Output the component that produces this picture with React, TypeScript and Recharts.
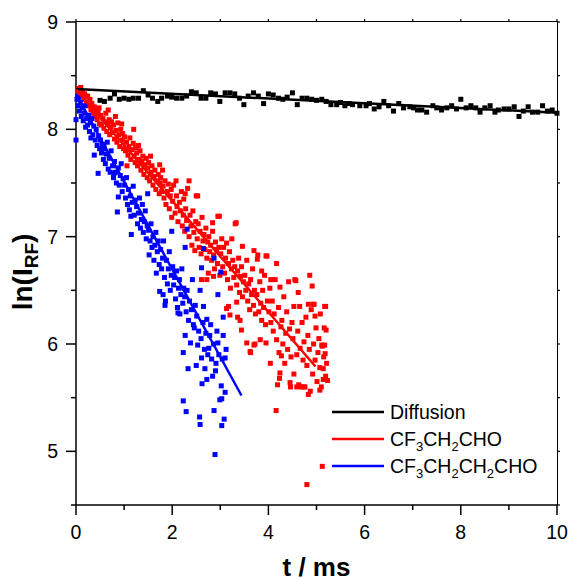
import React from "react";
import { ScatterChart, Scatter, XAxis, YAxis } from "recharts";

if (typeof document !== "undefined") {
  document.body.style.margin = "0";
}

// ---------- data (t in ms, ln(I_RF)) ----------
const diffusionPoints: [number, number][] = [
  [0.5, 8.27], [0.59, 8.26], [0.71, 8.29], [0.8, 8.33], [0.9, 8.28], [1.0, 8.29], [1.1, 8.28], [1.19, 8.29],
  [1.3, 8.29], [1.4, 8.36], [1.5, 8.32], [1.59, 8.29], [1.7, 8.26], [1.78, 8.29], [1.9, 8.31], [1.99, 8.3],
  [2.09, 8.29], [2.2, 8.29], [2.3, 8.31], [2.4, 8.35], [2.5, 8.34], [2.6, 8.29], [2.7, 8.29], [2.8, 8.34],
  [2.9, 8.33], [2.99, 8.26], [3.1, 8.34], [3.2, 8.34], [3.3, 8.33], [3.4, 8.29], [3.49, 8.23], [3.58, 8.31],
  [3.69, 8.34], [3.79, 8.31], [3.9, 8.24], [4.0, 8.33], [4.1, 8.32], [4.21, 8.29], [4.3, 8.28], [4.39, 8.3],
  [4.5, 8.34], [4.6, 8.23], [4.7, 8.29], [4.8, 8.29], [4.9, 8.28], [5.0, 8.27], [5.11, 8.28], [5.2, 8.26],
  [5.3, 8.23], [5.42, 8.23], [5.5, 8.25], [5.59, 8.22], [5.68, 8.24], [5.75, 8.23], [5.9, 8.22], [6.03, 8.22],
  [6.1, 8.24], [6.2, 8.19], [6.3, 8.21], [6.4, 8.26], [6.5, 8.22], [6.6, 8.17], [6.71, 8.24], [6.81, 8.2],
  [6.94, 8.21], [7.02, 8.2], [7.1, 8.18], [7.19, 8.18], [7.29, 8.16], [7.42, 8.22], [7.5, 8.2], [7.6, 8.18],
  [7.71, 8.2], [7.81, 8.22], [7.91, 8.19], [8.0, 8.28], [8.11, 8.2], [8.21, 8.22], [8.31, 8.2], [8.4, 8.16],
  [8.5, 8.2], [8.61, 8.22], [8.71, 8.16], [8.78, 8.18], [8.9, 8.19], [9.0, 8.19], [9.11, 8.21], [9.21, 8.12],
  [9.3, 8.17], [9.4, 8.21], [9.49, 8.16], [9.6, 8.16], [9.7, 8.22], [9.8, 8.17], [9.9, 8.18], [10.0, 8.15],
];

const cf3ch2choPoints: [number, number][] = [
  [0.03, 8.36], [0.06, 8.38], [0.08, 8.33], [0.1, 8.39], [0.12, 8.31], [0.14, 8.35], [0.16, 8.28], [0.18, 8.33],
  [0.2, 8.3], [0.22, 8.25], [0.24, 8.31], [0.27, 8.22], [0.29, 8.28], [0.31, 8.18], [0.33, 8.24], [0.36, 8.15],
  [0.38, 8.21], [0.4, 8.12], [0.42, 8.19], [0.44, 8.09], [0.46, 8.16], [0.48, 8.2], [0.49, 8.05], [0.51, 8.13],
  [0.53, 8.04], [0.56, 8.1], [0.58, 8.01], [0.6, 8.07], [0.62, 8.15], [0.64, 7.98], [0.66, 8.05], [0.67, 8.18],
  [0.69, 8.09], [0.7, 7.95], [0.72, 8.02], [0.74, 8.07], [0.76, 7.97], [0.78, 8.04], [0.8, 7.91], [0.82, 8.12],
  [0.83, 7.99], [0.85, 7.88], [0.87, 8.06], [0.89, 7.95], [0.91, 7.84], [0.93, 8.0], [0.95, 8.05], [0.96, 7.9],
  [0.97, 7.96], [0.99, 7.82], [1.01, 7.93], [1.03, 7.8], [1.05, 7.88], [1.06, 7.66], [1.08, 7.76], [1.1, 7.84],
  [1.12, 7.92], [1.14, 7.72], [1.16, 7.81], [1.19, 7.87], [1.2, 8.0], [1.21, 7.75], [1.23, 7.69], [1.24, 7.83],
  [1.26, 7.78], [1.28, 7.66], [1.3, 7.85], [1.31, 7.72], [1.33, 7.8], [1.35, 7.62], [1.37, 7.7], [1.39, 7.75],
  [1.41, 7.58], [1.43, 7.67], [1.46, 7.73], [1.48, 7.55], [1.49, 7.64], [1.51, 7.69], [1.53, 7.52], [1.55, 7.75],
  [1.56, 7.6], [1.58, 7.66], [1.6, 7.48], [1.62, 7.56], [1.64, 7.62], [1.66, 7.44], [1.69, 7.52], [1.71, 7.58],
  [1.73, 7.4], [1.74, 7.67], [1.75, 7.5], [1.76, 7.55], [1.78, 7.42], [1.8, 7.62], [1.81, 7.47], [1.83, 7.36],
  [1.85, 7.52], [1.87, 7.3], [1.9, 7.42], [1.92, 7.49], [1.94, 7.26], [1.96, 7.38], [1.98, 7.44], [1.99, 7.18],
  [2.01, 7.33], [2.03, 7.48], [2.06, 7.22], [2.08, 7.52], [2.09, 7.38], [2.1, 7.28], [2.12, 7.14], [2.15, 7.32],
  [2.17, 7.24], [2.19, 7.42], [2.21, 7.1], [2.23, 7.2], [2.24, 7.35], [2.26, 7.05], [2.27, 7.4], [2.28, 7.26],
  [2.3, 7.15], [2.32, 7.45], [2.35, 7.0], [2.35, 7.52], [2.37, 7.2], [2.39, 7.1], [2.41, 6.92], [2.43, 7.24],
  [2.45, 7.04], [2.47, 6.87], [2.49, 7.14], [2.5, 7.38], [2.52, 6.98], [2.53, 7.38], [2.54, 7.12], [2.56, 6.9],
  [2.58, 7.05], [2.6, 6.84], [2.61, 6.6], [2.62, 7.18], [2.64, 6.96], [2.66, 7.02], [2.68, 6.88], [2.7, 7.08],
  [2.72, 6.8], [2.72, 6.6], [2.74, 6.95], [2.75, 6.66], [2.76, 7.0], [2.78, 6.86], [2.8, 6.92], [2.82, 6.78],
  [2.84, 7.05], [2.84, 7.13], [2.86, 6.83], [2.86, 6.63], [2.88, 6.7], [2.9, 6.95], [2.92, 6.88], [2.94, 6.75],
  [2.95, 7.19], [2.97, 6.9], [2.98, 7.19], [2.99, 6.64], [3.01, 6.84], [3.03, 6.98], [3.05, 6.72], [3.07, 6.9],
  [3.09, 6.66], [3.11, 6.8], [3.13, 6.94], [3.13, 6.33], [3.15, 6.6], [3.17, 6.75], [3.17, 6.35], [3.19, 6.86],
  [3.2, 6.27], [3.21, 6.52], [3.23, 6.7], [3.24, 6.98], [3.26, 6.78], [3.28, 6.62], [3.3, 6.72], [3.31, 7.12],
  [3.33, 7.13], [3.34, 6.55], [3.34, 6.39], [3.36, 6.68], [3.36, 6.25], [3.38, 6.8], [3.4, 6.48], [3.41, 6.22],
  [3.42, 6.63], [3.44, 6.72], [3.44, 6.13], [3.46, 6.44], [3.46, 6.91], [3.48, 6.58], [3.51, 6.64], [3.53, 6.5],
  [3.55, 6.78], [3.55, 6.01], [3.57, 6.4], [3.59, 6.56], [3.61, 6.32], [3.62, 5.93], [3.63, 6.6], [3.63, 5.92],
  [3.65, 6.46], [3.67, 6.7], [3.69, 6.36], [3.7, 5.99], [3.7, 6.87], [3.71, 6.5], [3.72, 6.0], [3.73, 6.28],
  [3.76, 6.46], [3.77, 6.79], [3.78, 6.83], [3.8, 6.3], [3.82, 6.58], [3.83, 6.04], [3.84, 6.38], [3.86, 6.22],
  [3.86, 6.68], [3.88, 6.5], [3.9, 6.34], [3.92, 6.64], [3.94, 6.18], [3.95, 6.01], [3.95, 6.82], [3.97, 6.82],
  [3.98, 6.4], [4.01, 6.3], [4.03, 6.52], [4.04, 5.82], [4.05, 6.6], [4.05, 6.2], [4.08, 6.4], [4.1, 6.12],
  [4.12, 6.28], [4.14, 6.6], [4.16, 5.38], [4.17, 6.04], [4.17, 6.75], [4.19, 5.62], [4.21, 6.34], [4.22, 5.92],
  [4.23, 5.68], [4.24, 6.53], [4.24, 5.73], [4.26, 6.16], [4.27, 5.89], [4.28, 6.22], [4.3, 6.0], [4.32, 6.44],
  [4.34, 5.82], [4.36, 6.1], [4.38, 6.3], [4.4, 5.95], [4.42, 6.58], [4.44, 6.14], [4.45, 5.64], [4.46, 5.6],
  [4.47, 5.88], [4.49, 6.2], [4.51, 6.05], [4.53, 6.35], [4.53, 5.72], [4.55, 6.6], [4.57, 6.59], [4.59, 5.9],
  [4.59, 5.6], [4.61, 6.12], [4.62, 6.48], [4.63, 5.62], [4.65, 6.35], [4.66, 5.96], [4.68, 5.6], [4.7, 6.2],
  [4.72, 5.85], [4.73, 5.6], [4.74, 6.02], [4.76, 5.6], [4.78, 6.25], [4.8, 4.69], [4.8, 5.8], [4.82, 6.08],
  [4.83, 5.53], [4.83, 6.37], [4.85, 5.95], [4.86, 6.64], [4.87, 5.56], [4.89, 6.32], [4.91, 6.54], [4.92, 5.72],
  [4.93, 6.37], [4.94, 6.0], [4.95, 6.37], [4.97, 5.85], [4.97, 6.26], [4.99, 6.15], [5.01, 5.65], [5.03, 5.92],
  [5.05, 6.05], [5.07, 5.78], [5.07, 5.57], [5.08, 6.28], [5.1, 5.6], [5.11, 5.99], [5.12, 4.86], [5.12, 5.98],
  [5.14, 5.77], [5.14, 5.67], [5.15, 5.88], [5.16, 6.15], [5.17, 6.35], [5.17, 5.99], [5.18, 5.91], [5.19, 5.7],
  [5.19, 6.35], [5.2, 6.13], [5.21, 5.82], [5.23, 5.66],
];

const cf3ch2ch2choPoints: [number, number][] = [
  [0.0, 8.09], [0.0, 7.9], [0.02, 8.28], [0.04, 8.22], [0.05, 8.3], [0.07, 8.17], [0.09, 8.25], [0.11, 8.12],
  [0.13, 8.2], [0.15, 8.08], [0.17, 8.15], [0.19, 8.22], [0.2, 8.02], [0.22, 8.1], [0.24, 8.04], [0.26, 8.13],
  [0.28, 7.98], [0.3, 8.06], [0.31, 7.92], [0.33, 8.1], [0.35, 7.95], [0.37, 8.03], [0.38, 7.76], [0.4, 7.9],
  [0.42, 8.0], [0.44, 7.85], [0.46, 7.59], [0.47, 7.94], [0.49, 7.82], [0.51, 7.9], [0.53, 7.78], [0.55, 7.86],
  [0.57, 7.72], [0.58, 7.84], [0.59, 7.82], [0.61, 7.68], [0.63, 7.77], [0.65, 7.88], [0.67, 7.63], [0.69, 7.73],
  [0.71, 7.6], [0.73, 7.8], [0.76, 7.66], [0.78, 7.55], [0.79, 7.59], [0.8, 7.7], [0.82, 7.6], [0.84, 7.5],
  [0.86, 7.23], [0.88, 7.64], [0.88, 7.37], [0.9, 7.48], [0.92, 7.57], [0.94, 7.68], [0.96, 7.42], [0.98, 7.54],
  [1.01, 7.48], [1.03, 7.36], [1.05, 7.55], [1.07, 7.3], [1.09, 7.44], [1.11, 7.25], [1.13, 7.38], [1.14, 7.19],
  [1.15, 7.02], [1.17, 7.32], [1.19, 7.47], [1.21, 7.2], [1.23, 7.34], [1.26, 7.28], [1.28, 7.12], [1.3, 7.22],
  [1.32, 7.36], [1.34, 7.08], [1.36, 7.16], [1.38, 7.3], [1.4, 7.04], [1.42, 7.14], [1.44, 7.24], [1.46, 6.98],
  [1.48, 7.1], [1.49, 7.4], [1.51, 7.06], [1.52, 6.83], [1.54, 6.96], [1.56, 7.12], [1.58, 6.9], [1.6, 7.0],
  [1.62, 6.78], [1.64, 6.92], [1.66, 7.04], [1.67, 6.66], [1.69, 6.86], [1.71, 6.96], [1.73, 6.74], [1.74, 6.49],
  [1.76, 6.88], [1.78, 6.7], [1.8, 6.8], [1.81, 6.46], [1.82, 6.96], [1.84, 6.62], [1.85, 6.36], [1.86, 6.4],
  [1.88, 6.78], [1.9, 6.56], [1.92, 6.7], [1.94, 6.86], [1.96, 6.5], [1.98, 6.64], [1.99, 7.05], [2.01, 6.72],
  [2.03, 6.55], [2.05, 6.62], [2.07, 6.42], [2.09, 6.68], [2.11, 6.34], [2.12, 6.29], [2.13, 6.52], [2.15, 6.6],
  [2.16, 6.28], [2.18, 6.46], [2.2, 6.7], [2.22, 6.38], [2.23, 5.92], [2.23, 5.47], [2.24, 6.52], [2.26, 6.44],
  [2.27, 6.08], [2.27, 6.9], [2.29, 6.3], [2.29, 5.37], [2.31, 7.07], [2.31, 6.5], [2.33, 5.77], [2.34, 6.22],
  [2.36, 6.4], [2.38, 6.01], [2.4, 6.32], [2.42, 6.6], [2.44, 6.18], [2.46, 6.15], [2.48, 6.36], [2.5, 5.8],
  [2.51, 6.26], [2.53, 5.99], [2.55, 6.12], [2.57, 5.32], [2.58, 6.5], [2.58, 5.25], [2.6, 6.05], [2.61, 6.71],
  [2.61, 5.87], [2.62, 5.63], [2.64, 6.2], [2.65, 6.35], [2.65, 6.89], [2.67, 5.95], [2.68, 5.77], [2.7, 6.1],
  [2.72, 6.23], [2.72, 5.67], [2.74, 5.9], [2.76, 5.96], [2.78, 6.08], [2.8, 6.18], [2.82, 5.86], [2.84, 5.7],
  [2.86, 6.0], [2.87, 6.8], [2.87, 5.38], [2.89, 4.97], [2.9, 5.75], [2.91, 5.82], [2.93, 6.12], [2.95, 6.01],
  [2.95, 6.46], [2.97, 5.9], [2.99, 5.48], [3.01, 6.67], [3.02, 5.61], [3.03, 5.24], [3.03, 5.49], [3.04, 5.86],
  [3.06, 6.25], [3.06, 6.08], [3.08, 5.3], [3.1, 5.87], [3.1, 5.55], [3.12, 5.95],
];

const diffusionFit: [number, number][] = [[0, 8.375], [10, 8.155]];
const cf3ch2choFit: [number, number][] = [[0, 8.37], [4.98, 5.79]];
const cf3ch2ch2choFit: [number, number][] = [[0, 8.33], [3.44, 5.52]];

const xTicks = [0, 1, 2, 3, 4, 5, 6, 7, 8, 9, 10];
const yTicks = [4.5, 5, 5.5, 6, 6.5, 7, 7.5, 8, 8.5, 9];
const xDomain: [number, number] = [0, 10];
const yDomain: [number, number] = [4.5, 9];

const seriesNames = ["Diffusion", "CF3CH2CHO", "CF3CH2CH2CHO"];
const seriesColors = ["#000000", "#ff0000", "#0000ff"];

// ---------- helpers ----------
const FONT = "'Liberation Sans', Arial, Helvetica, sans-serif";
const toObj = (arr: [number, number][]) => arr.map(([t, v]) => ({ t, v }));

const topTickData = xTicks.map((t) => ({ t, v: yDomain[1] }));
const rightTickData = yTicks.map((v) => ({ t: xDomain[1], v }));

const makeSquare = (color: string) => (props: any) => {
  const { cx, cy } = props;
  if (cx == null || cy == null) return <g />;
  return <rect x={cx - 2.5} y={cy - 2.5} width={5} height={5} fill={color} />;
};
const noShape = () => <g />;
const topTickShape = (props: any) => {
  const { cx, cy } = props;
  if (cx == null || cy == null) return <g />;
  return <line x1={cx} x2={cx} y1={cy} y2={cy - 3} stroke="#000" strokeWidth={1.2} />;
};
const rightTickShape = (props: any) => {
  const { cx, cy } = props;
  if (cx == null || cy == null) return <g />;
  return <line x1={cx} x2={cx + 3} y1={cy} y2={cy} stroke="#000" strokeWidth={1.2} />;
};

const XTick = (props: any) => {
  const { x, y, payload } = props;
  const v = payload.value;
  const major = v % 2 === 0;
  return (
    <g>
      <line x1={x} x2={x} y1={y} y2={y + (major ? 10 : 5)} stroke="#000" strokeWidth={1.5} />
      {major && (
        <text x={x} y={y + 34} textAnchor="middle" fontFamily={FONT} fontSize={19.5} fill="#000">
          {v}
        </text>
      )}
    </g>
  );
};

const YTick = (props: any) => {
  const { x, y, payload } = props;
  const v = payload.value;
  const major = Number.isInteger(v);
  return (
    <g>
      <line x1={x - (major ? 10 : 5)} x2={x} y1={y} y2={y} stroke="#000" strokeWidth={1.5} />
      {major && (
        <text x={x - 18} y={y + 7} textAnchor="end" fontFamily={FONT} fontSize={19.5} fill="#000">
          {v}
        </text>
      )}
    </g>
  );
};

const XTitle = () => (
  <text x={316.5} y={576} textAnchor="middle" fontFamily={FONT} fontWeight="bold" fontSize={26} fill="#000">
    t / ms
  </text>
);

const YTitle = () => (
  <text transform="translate(32, 272) rotate(-90)" textAnchor="middle" fontFamily={FONT} fontWeight="bold" fontSize={28} fill="#000">
    ln(I
    <tspan fontSize={19} dy={6}>RF</tspan>
    <tspan dy={-6}>)</tspan>
  </text>
);

const renderFormula = (name: string) => {
  const parts = name.split(/(\d+)/).filter((p) => p.length > 0);
  return parts.map((p, i) =>
    /^\d+$/.test(p) ? (
      <sub key={i} style={{ fontSize: 13, verticalAlign: "-5px", lineHeight: 0 }}>{p}</sub>
    ) : (
      <span key={i}>{p}</span>
    )
  );
};

const LegendBox = () => (
  <div style={{ position: "absolute", left: 332, top: 398, fontFamily: FONT, fontSize: 19.5, color: "#000" }}>
    {seriesNames.map((n, i) => (
      <div key={n} style={{ display: "flex", alignItems: "center", height: 27, whiteSpace: "nowrap" }}>
        <svg width={52} height={6} style={{ marginRight: 6 }}>
          <line x1={0} x2={52} y1={3} y2={3} stroke={seriesColors[i]} strokeWidth={2.5} />
        </svg>
        <span style={{ lineHeight: "20px" }}>{renderFormula(n)}</span>
      </div>
    ))}
  </div>
);

// plot box outline (top and right edges), matching the chart margins below
const PlotFrame = () => (
  <div
    style={{
      position: "absolute",
      left: 76,
      top: 21,
      width: 482,
      height: 484,
      boxSizing: "border-box",
      borderTop: "1.5px solid #000",
      borderRight: "1.5px solid #000",
      pointerEvents: "none",
    }}
  />
);

export default function App() {
  return (
    <div style={{ position: "relative", width: 569, height: 579, background: "#fff", overflow: "hidden" }}>
      <ScatterChart width={569} height={579} margin={{ top: 22, right: 12, bottom: 0, left: 0 }}>
        <XAxis
          dataKey="t"
          type="number"
          domain={xDomain}
          ticks={xTicks}
          interval={0}
          orientation="bottom"
          height={74}
          tickSize={0}
          tickMargin={0}
          tickLine={false}
          tick={<XTick />}
          axisLine={{ stroke: "#000", strokeWidth: 1.5 }}
          label={<XTitle />}
        />
        <YAxis
          dataKey="v"
          type="number"
          domain={yDomain}
          ticks={yTicks}
          interval={0}
          orientation="left"
          width={76}
          tickSize={0}
          tickMargin={0}
          tickLine={false}
          tick={<YTick />}
          axisLine={{ stroke: "#000", strokeWidth: 1.5 }}
          label={<YTitle />}
        />
        <Scatter name="top ticks" data={topTickData} dataKey="v" shape={topTickShape} isAnimationActive={false} />
        <Scatter name="right ticks" data={rightTickData} dataKey="v" shape={rightTickShape} isAnimationActive={false} />
        <Scatter name="Diffusion points" data={toObj(diffusionPoints)} dataKey="v" shape={makeSquare("#000000")} isAnimationActive={false} />
        <Scatter name="CF3CH2CHO points" data={toObj(cf3ch2choPoints)} dataKey="v" shape={makeSquare("#ff0000")} isAnimationActive={false} />
        <Scatter name="CF3CH2CH2CHO points" data={toObj(cf3ch2ch2choPoints)} dataKey="v" shape={makeSquare("#0000ff")} isAnimationActive={false} />
        <Scatter name="Diffusion fit" data={toObj(diffusionFit)} dataKey="v" shape={noShape} line={{ stroke: "#000000", strokeWidth: 2.5 }} isAnimationActive={false} />
        <Scatter name="CF3CH2CHO fit" data={toObj(cf3ch2choFit)} dataKey="v" shape={noShape} line={{ stroke: "#ff0000", strokeWidth: 2.5 }} isAnimationActive={false} />
        <Scatter name="CF3CH2CH2CHO fit" data={toObj(cf3ch2ch2choFit)} dataKey="v" shape={noShape} line={{ stroke: "#0000ff", strokeWidth: 2.5 }} isAnimationActive={false} />
      </ScatterChart>
      <PlotFrame />
      <LegendBox />
    </div>
  );
}
